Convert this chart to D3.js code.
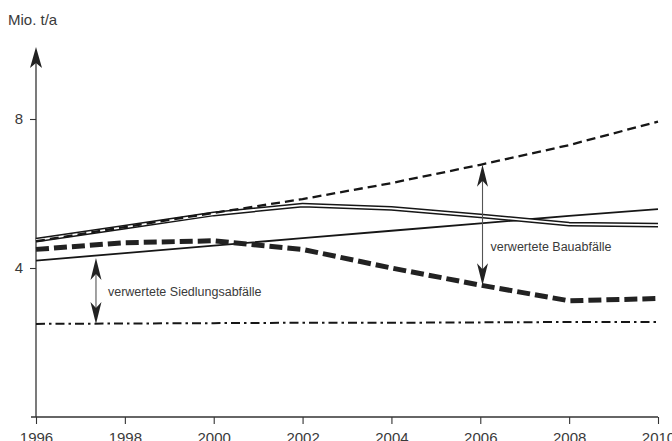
<!DOCTYPE html>
<html><head><meta charset="utf-8">
<script src="https://cdn.jsdelivr.net/npm/d3@7"></script>
<style>
html,body{margin:0;padding:0;background:#fff;}
svg{display:block;font-family:"Liberation Sans",Arial,sans-serif;}
</style></head>
<body>
<svg id="chart" width="672" height="441"></svg>
<script>
// ---- data ----
const years = [1996, 1998, 2000, 2002, 2004, 2006, 2008, 2010];
const gesamtDashed = [4.72, 5.1, 5.48, 5.85, 6.28, 6.77, 7.3, 7.93];
const doppelLinie = [4.75, 5.1, 5.45, 5.69, 5.6, 5.4, 5.18, 5.15];
const solidLinie = [4.2, 4.4, 4.6, 4.8, 5.0, 5.2, 5.4, 5.58];
const dickGestrichelt = [4.5, 4.68, 4.73, 4.5, 4.0, 3.54, 3.12, 3.18];
const strichPunkt = [2.5, 2.51, 2.52, 2.53, 2.53, 2.54, 2.55, 2.55];
const yTicks = [4, 8];
const xTicks = [1996, 1998, 2000, 2002, 2004, 2006, 2008, 2010];
const yAxisTitle = "Mio. t/a";
const annotations = [
  {label: "verwertete Siedlungsabfälle", year: 1997.35, from: 4.27, to: 2.5, labelAt: 3.35},
  {label: "verwertete Bauabfälle", year: 2006.05, from: 6.77, to: 3.54, labelAt: 4.55}
];
const yAxisTop = 9.93;

// ---- scales ----
const svg = d3.select("#chart");
const x = d3.scaleLinear().domain([1996, 2010]).range([36, 658]);
const y = d3.scaleLinear().domain([0, 8]).range([417, 119]);
const textColor = "#3a3a3a";
const lineColor = "#161616";

const line = d3.line().x((d, i) => x(years[i])).y(d => y(d));

// ---- axes ----
const xAxis = d3.axisBottom(x).tickValues(xTicks).tickFormat(d3.format("d")).tickSize(7).tickPadding(7);
const gx = svg.append("g").attr("transform", `translate(0,${y(0)})`).call(xAxis);
gx.select(".domain").remove();
gx.append("line").attr("x1", 31).attr("x2", x(2010)).attr("y1", 0).attr("y2", 0)
  .attr("stroke", "#333").attr("stroke-width", 1.3);
gx.selectAll(".tick line").attr("stroke", "#333").attr("stroke-width", 1.1);
gx.selectAll(".tick text").attr("fill", textColor).attr("font-size", 15).attr("dy", "0.78em");

const yAxis = d3.axisLeft(y).tickValues(yTicks).tickSize(6).tickPadding(7);
const gy = svg.append("g").attr("transform", `translate(${x(1996)},0)`).call(yAxis);
gy.select(".domain").remove();
gy.append("line").attr("x1", 0).attr("x2", 0).attr("y1", y(0)).attr("y2", y(yAxisTop) + 10)
  .attr("stroke", "#333").attr("stroke-width", 1.3);
gy.selectAll(".tick line").attr("stroke", "#333").attr("stroke-width", 1.1);
gy.selectAll(".tick text").attr("fill", textColor).attr("font-size", 15);

// axis arrow head
const headPath = (L, W, N) => `M0,0 L${W},${L} L0,${N} L${-W},${L} Z`;
gy.append("path").attr("d", headPath(21, 6, 16))
  .attr("transform", `translate(0,${y(yAxisTop)})`).attr("fill", "#222");

svg.append("text").attr("x", 8).attr("y", 25).attr("font-size", 15)
  .attr("fill", textColor).text(yAxisTitle);

// ---- series ----
const g = svg.append("g").attr("fill", "none").attr("stroke-linejoin", "round");

g.append("path").attr("d", line(strichPunkt)).attr("stroke", lineColor)
  .attr("stroke-width", 2).attr("stroke-dasharray", "9,4,2.5,4");

g.append("path").attr("d", line(solidLinie)).attr("stroke", lineColor).attr("stroke-width", 1.8);

g.append("path").attr("d", line(doppelLinie)).attr("stroke", lineColor).attr("stroke-width", 4.8);
g.append("path").attr("d", line(doppelLinie)).attr("stroke", "#fff").attr("stroke-width", 1.8);

g.append("path").attr("d", line(dickGestrichelt)).attr("stroke", "#222")
  .attr("stroke-width", 5).attr("stroke-dasharray", "13,5");

g.append("path").attr("d", line(gesamtDashed)).attr("stroke", lineColor)
  .attr("stroke-width", 2.3).attr("stroke-dasharray", "9,5");

// ---- annotations ----
annotations.forEach((a, i) => {
  const ax = x(a.year), y1 = y(a.from), y2 = y(a.to);
  svg.append("line").attr("x1", ax).attr("x2", ax).attr("y1", y1 + 10).attr("y2", y2 - 10)
    .attr("stroke", "#555").attr("stroke-width", 1.1);
  svg.append("path").attr("d", headPath(22, 5.5, 16)).attr("fill", "#222")
    .attr("transform", `translate(${ax},${y1})`);
  svg.append("path").attr("d", headPath(22, 5.5, 16)).attr("fill", "#222")
    .attr("transform", `translate(${ax},${y2}) rotate(180)`);
  svg.append("text").attr("x", ax + (i === 0 ? 12 : 8)).attr("y", y(a.labelAt))
    .attr("dominant-baseline", "middle").attr("font-size", 12.5).attr("fill", textColor)
    .text(a.label);
});
</script>
</body></html>
